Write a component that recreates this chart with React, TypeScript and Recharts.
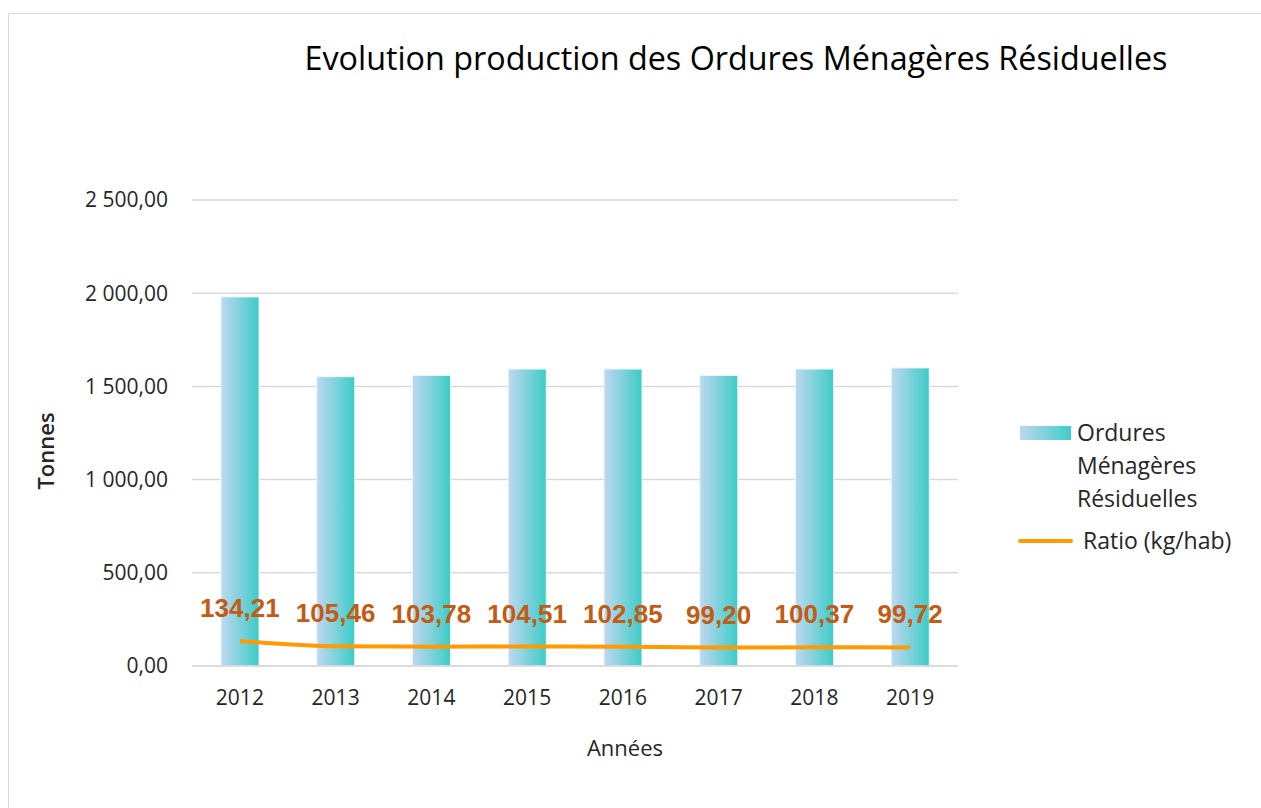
import React from 'react';
import { ComposedChart, Bar, Line, XAxis, YAxis, CartesianGrid, LabelList, Legend } from 'recharts';

const years = ['2012', '2013', '2014', '2015', '2016', '2017', '2018', '2019'];
const tonnage = [1980, 1552, 1559, 1593, 1593, 1559, 1593, 1599];
const ratio = [134.21, 105.46, 103.78, 104.51, 102.85, 99.2, 100.37, 99.72];
const yTicks = [0, 500, 1000, 1500, 2000, 2500];

const barName = 'Ordures Ménagères Résiduelles';
const lineName = 'Ratio (kg/hab)';
const title = 'Evolution production des Ordures Ménagères Résiduelles';
const xTitle = 'Années';
const yTitle = 'Tonnes';

const data = years.map((y, i) => ({ year: y, omr: tonnage[i], ratio: ratio[i] }));

const FONT = '"Open Sans", sans-serif';
const TEXT = '#262626';

const fmtFr = (v: number) => {
  const [int, dec] = v.toFixed(2).split('.');
  const withSep = int.replace(/\B(?=(\d{3})+(?!\d))/g, ' ');
  return `${withSep},${dec}`;
};

const RatioLabel = (props: any) => {
  const { x, y, value } = props;
  return (
    <text
      x={x}
      y={y - 33}
      textAnchor="middle"
      dominantBaseline="central"
      fontFamily='"Liberation Sans", Arial, sans-serif'
      fontWeight="bold"
      fontSize={26}
      fill="#C55A11"
    >
      {fmtFr(value)}
    </text>
  );
};

const LegendContent = () => (
  <div style={{ position: 'relative', width: 240, height: 140, fontFamily: FONT, fontSize: 23, color: TEXT }}>
    <div
      style={{
        position: 'absolute',
        left: 2,
        top: 6,
        width: 51,
        height: 14,
        background: 'linear-gradient(to right, #BDD7EE, #3ECDC9)',
      }}
    />
    <div style={{ position: 'absolute', left: 59, top: -4, lineHeight: '33px', width: 180 }}>
      Ordures
      <br />
      Ménagères
      <br />
      Résiduelles
    </div>
    <div style={{ position: 'absolute', left: 0, top: 119, width: 55, height: 4, borderRadius: 2, background: '#FF9A00' }} />
    <div style={{ position: 'absolute', left: 65, top: 104, lineHeight: '33px', whiteSpace: 'nowrap' }}>{lineName}</div>
  </div>
);

export default function App() {
  return (
    <div style={{ position: 'absolute', left: 0, top: 0, width: 1261, height: 808, background: '#fff', overflow: 'hidden' }}>
      <div
        style={{
          position: 'absolute',
          left: 8,
          top: 13,
          right: -5,
          bottom: -5,
          borderTop: '1.5px solid #d9d9d9',
          borderLeft: '1.5px solid #d9d9d9',
        }}
      />
      <div
        style={{
          position: 'absolute',
          left: 0,
          width: 1472,
          top: 35,
          textAlign: 'center',
          fontFamily: FONT,
          fontSize: 32.3,
          color: '#000',
          whiteSpace: 'nowrap',
          lineHeight: '44px',
        }}
      >
        {title}
      </div>
      <div
        style={{
          position: 'absolute',
          left: 0,
          width: 1250,
          top: 731,
          textAlign: 'center',
          fontFamily: FONT,
          fontSize: 22,
          color: TEXT,
          lineHeight: '32px',
        }}
      >
        {xTitle}
      </div>
      <div
        style={{
          position: 'absolute',
          left: 45,
          top: 451,
          transform: 'translate(-50%, -50%) rotate(-90deg)',
          fontFamily: FONT,
          fontSize: 22,
          fontWeight: 600,
          color: TEXT,
          whiteSpace: 'nowrap',
          lineHeight: '30px',
        }}
      >
        {yTitle}
      </div>
      <div style={{ position: 'absolute', left: 0, top: 0 }}>
        <ComposedChart width={1261} height={808} data={data} margin={{ top: 200, right: 63, bottom: 0, left: 0 }}>
          <defs>
            <linearGradient id="barGrad" x1="0" y1="0" x2="1" y2="0">
              <stop offset="0%" stopColor="#BFD8F0" />
              <stop offset="100%" stopColor="#3CCCC8" />
            </linearGradient>
          </defs>
          <CartesianGrid vertical={false} stroke="#d9d9d9" strokeWidth={1.5} />
          <XAxis
            dataKey="year"
            axisLine={{ stroke: '#d9d9d9', strokeWidth: 1.5 }}
            tickLine={false}
            tickSize={8}
            tickMargin={16}
            tick={{ fill: TEXT, fontFamily: FONT, fontSize: 21 }}
            height={142}
          />
          <YAxis
            width={192}
            domain={[0, 2500]}
            ticks={yTicks}
            axisLine={false}
            tickLine={false}
            tickSize={8}
            tickMargin={16}
            tickFormatter={fmtFr}
            tick={{ fill: TEXT, fontFamily: FONT, fontSize: 21 }}
          />
          <Legend
            layout="vertical"
            align="right"
            verticalAlign="middle"
            content={<LegendContent />}
            wrapperStyle={{ position: 'absolute', left: 1018, top: 420, width: 240, height: 140 }}
          />
          <Bar
            dataKey="omr"
            name={barName}
            fill="url(#barGrad)"
            stroke="#e8f6fa"
            strokeWidth={1}
            barSize={38}
            isAnimationActive={false}
          />
          <Line
            dataKey="ratio"
            name={lineName}
            type="monotone"
            stroke="#FF9A00"
            strokeWidth={4}
            dot={false}
            activeDot={false}
            isAnimationActive={false}
          >
            <LabelList dataKey="ratio" content={<RatioLabel />} />
          </Line>
        </ComposedChart>
      </div>
    </div>
  );
}
